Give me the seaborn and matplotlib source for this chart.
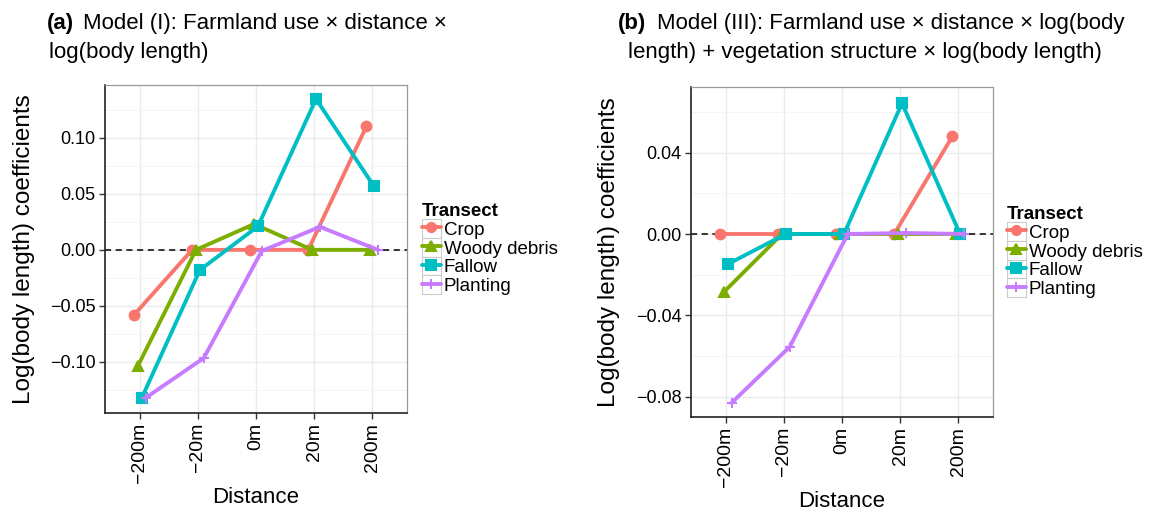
import numpy as np
import pandas as pd
import matplotlib
matplotlib.use("Agg")
import matplotlib.pyplot as plt
import seaborn as sns
from matplotlib.lines import Line2D
from matplotlib.patches import Rectangle
from matplotlib.legend_handler import HandlerLine2D
from matplotlib.ticker import FixedLocator

distances = ["−200m", "−20m", "0m", "20m", "200m"]
transects = ["Crop", "Woody debris", "Fallow", "Planting"]
colors = ["#F8766D", "#7CAE00", "#00BFC4", "#C77CFF"]
markers = ["o", "^", "s", "+"]

# Panel (a): Model (I)
a_crop = [-0.058, 0.0, 0.0, 0.0, 0.110]
a_woody = [-0.1035, 0.0, 0.023, 0.0, 0.0]
a_fallow = [-0.132, -0.018, 0.021, 0.1345, 0.0565]
a_planting = [-0.132, -0.0965, -0.001, 0.0205, 0.0]

# Panel (b): Model (III)
b_crop = [0.0, 0.0, 0.0, 0.0, 0.048]
b_woody = [-0.0285, 0.0, 0.0, 0.0, 0.0]
b_fallow = [-0.0148, 0.0, 0.0, 0.0643, 0.0]
b_planting = [-0.083, -0.0555, 0.0, 0.0005, 0.0]

a_yticks = [-0.10, -0.05, 0.00, 0.05, 0.10]
a_ylabels = ["−0.10", "−0.05", "0.00", "0.05", "0.10"]
b_yticks = [-0.08, -0.04, 0.00, 0.04]
b_ylabels = ["−0.08", "−0.04", "0.00", "0.04"]


def long_df(series):
    rows = []
    for t, vals in zip(transects, series):
        for d, v in zip(distances, vals):
            rows.append({"Distance": d, "Transect": t, "coef": v})
    return pd.DataFrame(rows)


df_a = long_df([a_crop, a_woody, a_fallow, a_planting])
df_b = long_df([b_crop, b_woody, b_fallow, b_planting])

sns.set_theme(style="white")
plt.rcParams["font.family"] = ["Liberation Sans", "DejaVu Sans"]
plt.rcParams["text.color"] = "black"
plt.rcParams["axes.labelcolor"] = "black"
plt.rcParams["xtick.color"] = "black"
plt.rcParams["ytick.color"] = "black"

W, H = 1151, 512
fig = plt.figure(figsize=(W / 100, H / 100), dpi=100)


def px_axes(left, right, top, bottom):
    return fig.add_axes([left / W, 1 - bottom / H, (right - left) / W, (bottom - top) / H])


ax_a = px_axes(105, 407, 85, 413)
ax_b = px_axes(691, 993, 87, 417)


def draw(ax, df, ylim, yticks, ylabels, minor):
    ax.set_axisbelow(True)
    ax.axhline(0, color="black", ls=(0, (4, 3)), lw=1.1, zorder=1)
    sns.pointplot(data=df, x="Distance", y="coef", hue="Transect",
                  order=distances, hue_order=transects, palette=colors,
                  markers=markers, linestyles="-", dodge=0.2, errorbar=None,
                  ax=ax, markersize=7, linewidth=2.8, markeredgewidth=1.5)
    ax.set_xlim(-0.6, 4.6)
    ax.set_ylim(*ylim)
    ax.set_yticks(yticks)
    ax.set_yticklabels(ylabels)
    ax.yaxis.set_minor_locator(FixedLocator(minor))
    ax.grid(which="major", color="#ebebeb", lw=1.0)
    ax.grid(which="minor", axis="y", color="#f4f4f4", lw=0.7)
    ax.tick_params(axis="x", labelrotation=90, labelsize=14, length=4, width=1,
                   color="#333333", pad=3, bottom=True)
    ax.tick_params(axis="y", labelsize=13, length=4, width=1,
                   color="#333333", pad=3, left=True)
    ax.tick_params(which="minor", length=0)
    for s in ["top", "right"]:
        ax.spines[s].set_color("#9a9a9a")
        ax.spines[s].set_linewidth(0.9)
    for s in ["left", "bottom"]:
        ax.spines[s].set_color("#222222")
        ax.spines[s].set_linewidth(1.2)
    ax.set_xlabel("Distance", fontsize=16, labelpad=3)
    ax.set_ylabel("Log(body length) coefficients", fontsize=17.5)
    leg = ax.get_legend()
    if leg is not None:
        leg.remove()


draw(ax_a, df_a, (-0.1455, 0.147), a_yticks, a_ylabels,
     [-0.125, -0.075, -0.025, 0.025, 0.075, 0.125])
draw(ax_b, df_b, (-0.090, 0.0723), b_yticks, b_ylabels,
     [-0.06, -0.02, 0.02, 0.06])

ax_a.yaxis.set_label_coords((35 - 105) / 302, 0.5)
ax_b.yaxis.set_label_coords((620 - 691) / 302, 0.5)


class BoxedHandler(HandlerLine2D):
    def create_artists(self, legend, orig_handle, xdescent, ydescent, width, height,
                       fontsize, trans):
        size = min(width, height + 4)
        rect = Rectangle((width / 2 - size / 2 - xdescent, height / 2 - size / 2 - ydescent),
                         size, size, facecolor="white", edgecolor="#cccccc", lw=0.8,
                         transform=trans)
        arts = super().create_artists(legend, orig_handle, xdescent, ydescent, width,
                                      height, fontsize, trans)
        return [rect] + arts


handles = [Line2D([], [], color=c, marker=m, lw=2.8, markersize=6.5, markeredgewidth=1.5)
           for c, m in zip(colors, markers)]


def add_legend(x, y):
    leg = fig.legend(handles, transects, title="Transect", loc="upper left",
                     bbox_to_anchor=(x / W, 1 - y / H), frameon=False,
                     fontsize=13.5, title_fontproperties={"weight": "bold", "size": 13.5},
                     handlelength=1.0, handleheight=1.0, handletextpad=0.15,
                     labelspacing=0.0, borderpad=0, borderaxespad=0,
                     handler_map={Line2D: BoxedHandler()})
    leg._legend_box.align = "left"


add_legend(422, 203)
add_legend(1007, 206)

# Titles
fig.text(47 / W, 1 - 29 / H, "(a)", fontsize=16, weight="bold", va="baseline")
fig.text(83 / W, 1 - 29 / H, "Model (I): Farmland use × distance ×", fontsize=16, va="baseline")
fig.text(49 / W, 1 - 58 / H, "log(body length)", fontsize=16, va="baseline")
fig.text(618 / W, 1 - 29 / H, "(b)", fontsize=16, weight="bold", va="baseline")
fig.text(657 / W, 1 - 29 / H, "Model (III): Farmland use × distance × log(body",
         fontsize=16, va="baseline")
fig.text(628 / W, 1 - 58 / H, "length) + vegetation structure × log(body length)",
         fontsize=16, va="baseline")

fig.savefig("out.png", dpi=100, facecolor="white")
